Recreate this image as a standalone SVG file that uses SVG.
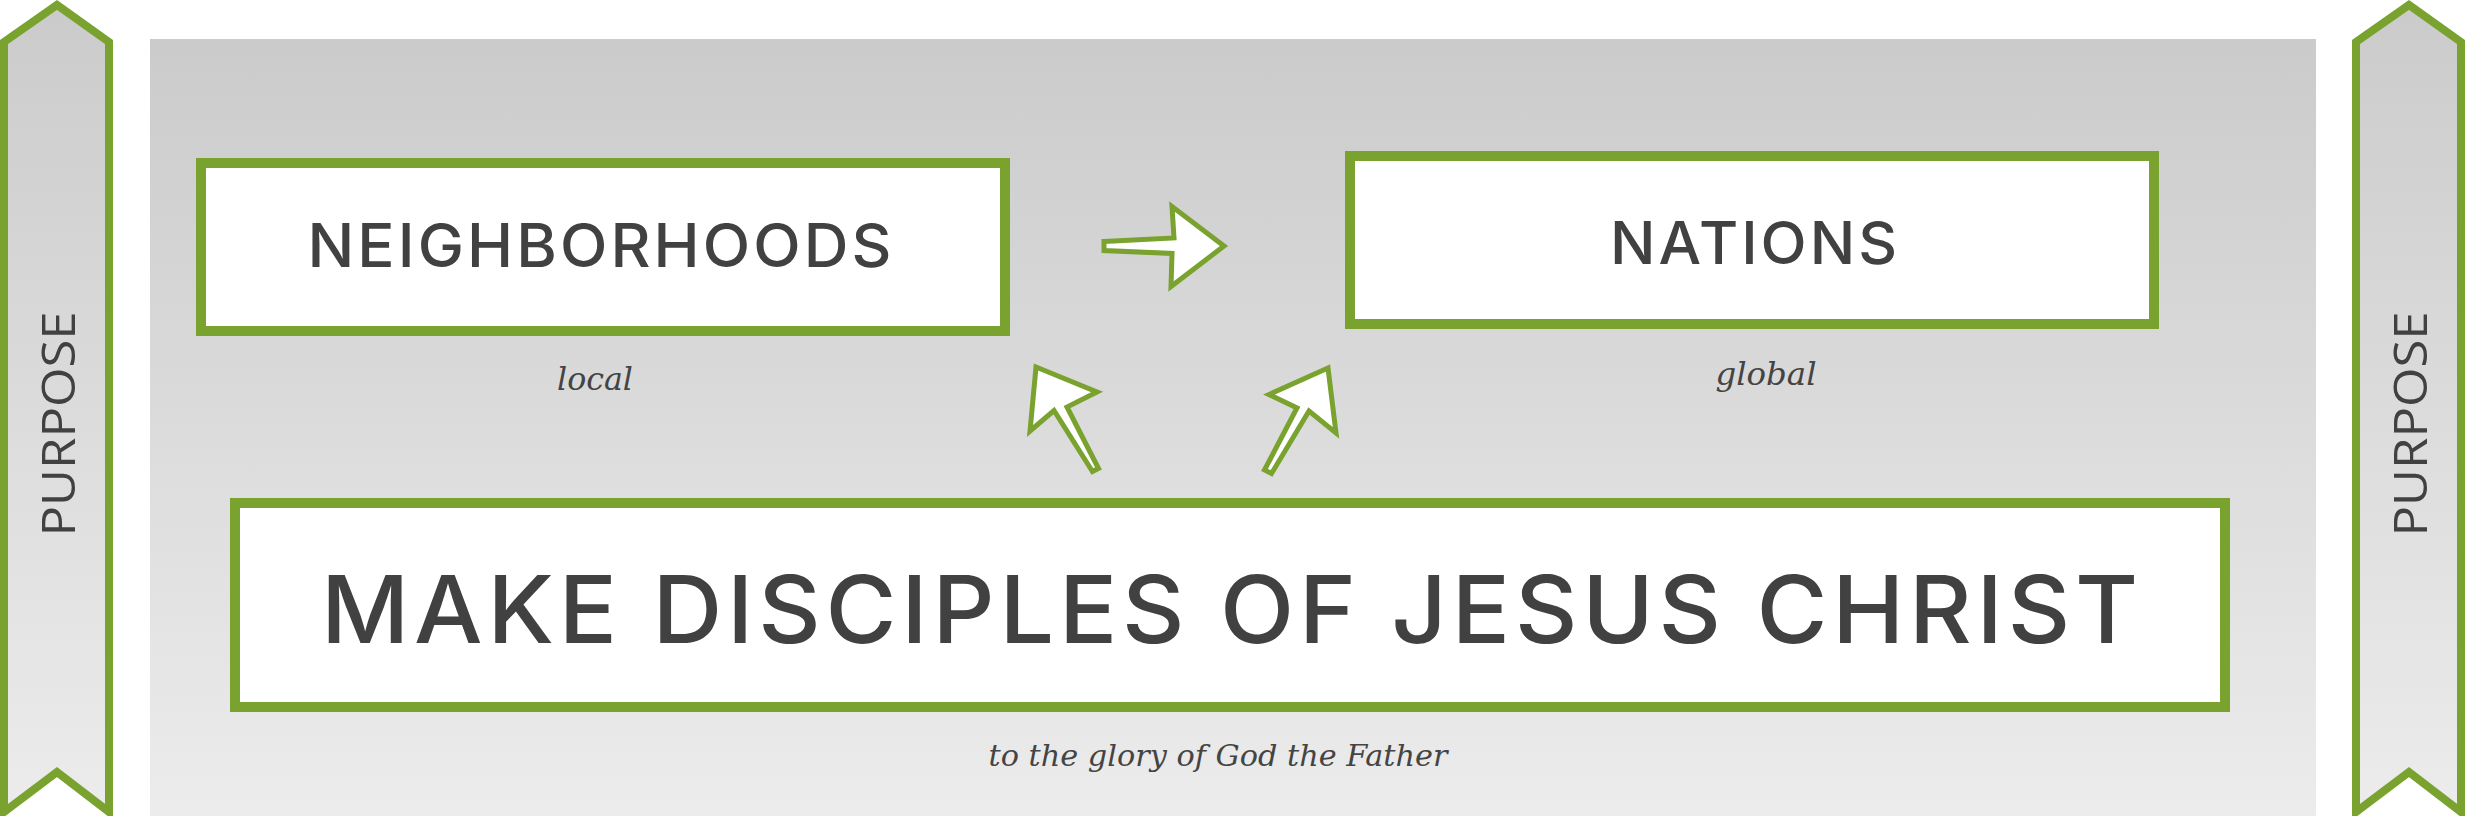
<svg xmlns="http://www.w3.org/2000/svg" width="2465" height="816" viewBox="0 0 2465 816">
<defs>
<linearGradient id="bg" x1="0" y1="0" x2="0" y2="1">
<stop offset="0" stop-color="#cbcbcb"/>
<stop offset="1" stop-color="#ececec"/>
</linearGradient>
<style>
.box{fill:#ffffff;stroke:#79a22f;stroke-width:10}
.ban{fill:url(#bg);stroke:#79a22f;stroke-width:8;stroke-linejoin:miter}
.arr{fill:#ffffff;stroke:#79a22f;stroke-width:5;stroke-linejoin:miter}
.title{font-family:Inter,"Liberation Sans",sans-serif;font-weight:500;fill:#414141;text-anchor:middle;letter-spacing:0.05em}
.sub{font-family:"DejaVu Serif","Liberation Serif",serif;font-style:italic;fill:#444444;text-anchor:middle}
.pur{font-family:"Open Sans","Noto Sans",sans-serif;font-size:46px;fill:#414141;text-anchor:middle}
</style>
</defs>
<rect width="2465" height="816" fill="#ffffff"/>
<g id="panel">
<rect x="150" y="39" width="2166" height="777" fill="url(#bg)"/>
</g>
<g id="banner-left">
<polygon class="ban" points="4,42 57,5 109,42 109,812 57,772 4,812"/>
<text class="pur" transform="translate(75,424) rotate(-90)" textLength="225" lengthAdjust="spacingAndGlyphs">PURPOSE</text>
</g>
<g id="banner-right">
<polygon class="ban" points="2356,42 2409,5 2461,42 2461,812 2409,772 2356,812"/>
<text class="pur" transform="translate(2427,424) rotate(-90)" textLength="225" lengthAdjust="spacingAndGlyphs">PURPOSE</text>
</g>
<g id="node-neighborhoods">
<rect class="box" x="201" y="163" width="804" height="168"/>
<text class="title" x="601" y="267" font-size="60" textLength="587" lengthAdjust="spacingAndGlyphs">NEIGHBORHOODS</text>
<text class="sub" x="595" y="390" font-size="32" textLength="76" lengthAdjust="spacingAndGlyphs">local</text>
</g>
<g id="node-nations">
<rect class="box" x="1350" y="156" width="804" height="168"/>
<text class="title" x="1755" y="264" font-size="59" textLength="290" lengthAdjust="spacingAndGlyphs">NATIONS</text>
<text class="sub" x="1766" y="385" font-size="32" textLength="101" lengthAdjust="spacingAndGlyphs">global</text>
</g>
<g id="node-make">
<rect class="box" x="235" y="503" width="1990" height="204"/>
<text class="title" x="1232" y="643" font-size="93" font-weight="600" textLength="1822" lengthAdjust="spacingAndGlyphs">MAKE DISCIPLES OF JESUS CHRIST</text>
<text class="sub" x="1218" y="766" font-size="30" textLength="459" lengthAdjust="spacingAndGlyphs">to the glory of God the Father</text>
</g>
<g id="connectors">
<polygon class="arr" points="1104,241.5 1174,238 1172,206.5 1224,246 1171,286.5 1172,253.5 1104,250.5"/>
<polygon class="arr" points="1036,367 1097,392 1067,407 1098.5,468.5 1092.5,471.5 1054,410.5 1030,431"/>
<polygon class="arr" points="1328,368 1269,394.5 1297,408 1264.5,470 1271.5,473.5 1309,411 1336,433"/>
</g>
</svg>
